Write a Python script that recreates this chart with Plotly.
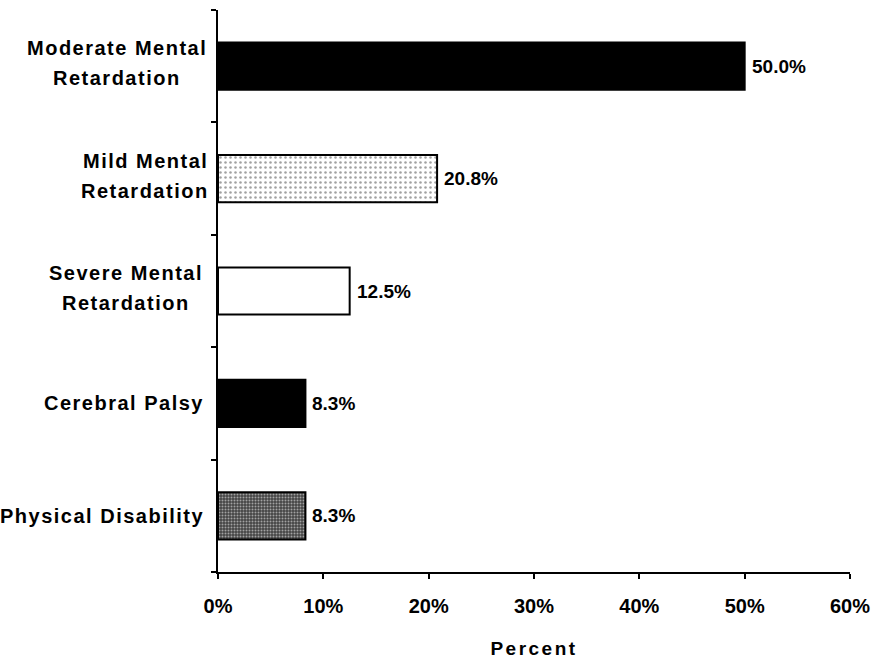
import plotly.graph_objects as go

# Data (listed top to bottom as shown)
categories = [
    "Moderate Mental Retardation",
    "Mild Mental Retardation",
    "Severe Mental Retardation",
    "Cerebral Palsy",
    "Physical Disability",
]
label_lines = [
    ["Moderate Mental", "Retardation"],
    ["Mild Mental", "Retardation"],
    ["Severe Mental", "Retardation"],
    ["Cerebral Palsy"],
    ["Physical Disability"],
]
percent = [50.0, 20.8, 12.5, 8.3, 8.3]
x_ticks = [0, 10, 20, 30, 40, 50, 60]

# Fill styles per bar
fill_colors = ["#000000", "#ffffff", "#ffffff", "#000000", "#454545"]
pattern_shapes = ["", ".", "", "", "."]
pattern_fg = ["#000000", "#8c8c8c", "#000000", "#000000", "#d8d8d8"]
pattern_size = [6, 5, 6, 6, 3]
pattern_solidity = [0.3, 0.2, 0.3, 0.3, 0.35]

FONT = "Liberation Sans, Arial, sans-serif"
LABEL_FONT = dict(family=FONT, size=20, color="#000000", weight="bold")

# Horizontal centre of each two-line label block, in px left of the axis
block_centre = {
    "Moderate Mental Retardation": -101,
    "Mild Mental Retardation": -73,
    "Severe Mental Retardation": -92,
}


def spaced(text, px=1.5):
    return f"<span style='letter-spacing:{px}px'>{text}</span>"


fig = go.Figure()
fig.add_trace(
    go.Bar(
        y=categories,
        x=percent,
        orientation="h",
        width=0.42,
        marker=dict(
            color=fill_colors,
            line=dict(color="#000000", width=2),
            pattern=dict(
                shape=pattern_shapes,
                fgcolor=pattern_fg,
                size=pattern_size,
                solidity=pattern_solidity,
                fillmode="overlay",
            ),
        ),
        hoverinfo="skip",
    )
)

# Value labels to the right of each bar
for cat, v in zip(categories, percent):
    fig.add_annotation(
        x=v,
        y=cat,
        xref="x",
        yref="y",
        xanchor="left",
        yanchor="middle",
        xshift=5,
        showarrow=False,
        text=f"{v:.1f}%",
        font=dict(family=FONT, size=19, color="#000000", weight="bold"),
    )

# Category labels
LINE_GAP = 30
for cat, lines in zip(categories, label_lines):
    if len(lines) == 1:
        fig.add_annotation(
            x=0, xref="paper", y=cat, yref="y",
            xanchor="right", yanchor="middle", xshift=-12,
            showarrow=False, text=spaced(lines[0]), font=LABEL_FONT,
        )
        continue
    for i, part in enumerate(lines):
        fig.add_annotation(
            x=0, xref="paper", y=cat, yref="y",
            xanchor="center", yanchor="middle",
            xshift=block_centre[cat],
            yshift=(LINE_GAP / 2 - i * LINE_GAP) + 3,
            showarrow=False, text=spaced(part), font=LABEL_FONT,
        )

fig.update_layout(
    width=871,
    height=659,
    margin=dict(l=218, r=21, t=10, b=87, autoexpand=False),
    paper_bgcolor="#ffffff",
    plot_bgcolor="#ffffff",
    showlegend=False,
)

fig.update_xaxes(
    range=[0, 60],
    tickvals=x_ticks,
    ticktext=[f"{t}%" for t in x_ticks],
    ticks="outside",
    ticklen=5,
    tickwidth=2,
    tickcolor="#000000",
    showline=True,
    linecolor="#000000",
    linewidth=2,
    showgrid=False,
    zeroline=False,
    automargin=False,
    tickfont=dict(family=FONT, size=20, color="#000000", weight="bold"),
    ticklabelstandoff=10,
    title=dict(
        text=spaced("Percent", 2.5),
        font=dict(family=FONT, size=19, color="#000000", weight="bold"),
        standoff=28,
    ),
)

fig.update_yaxes(
    categoryorder="array",
    categoryarray=categories[::-1],
    tickson="boundaries",
    ticks="outside",
    ticklen=5,
    tickwidth=2,
    tickcolor="#000000",
    showticklabels=False,
    showline=True,
    linecolor="#000000",
    linewidth=2,
    showgrid=False,
    zeroline=False,
    automargin=False,
)

fig.write_html("out.html")
